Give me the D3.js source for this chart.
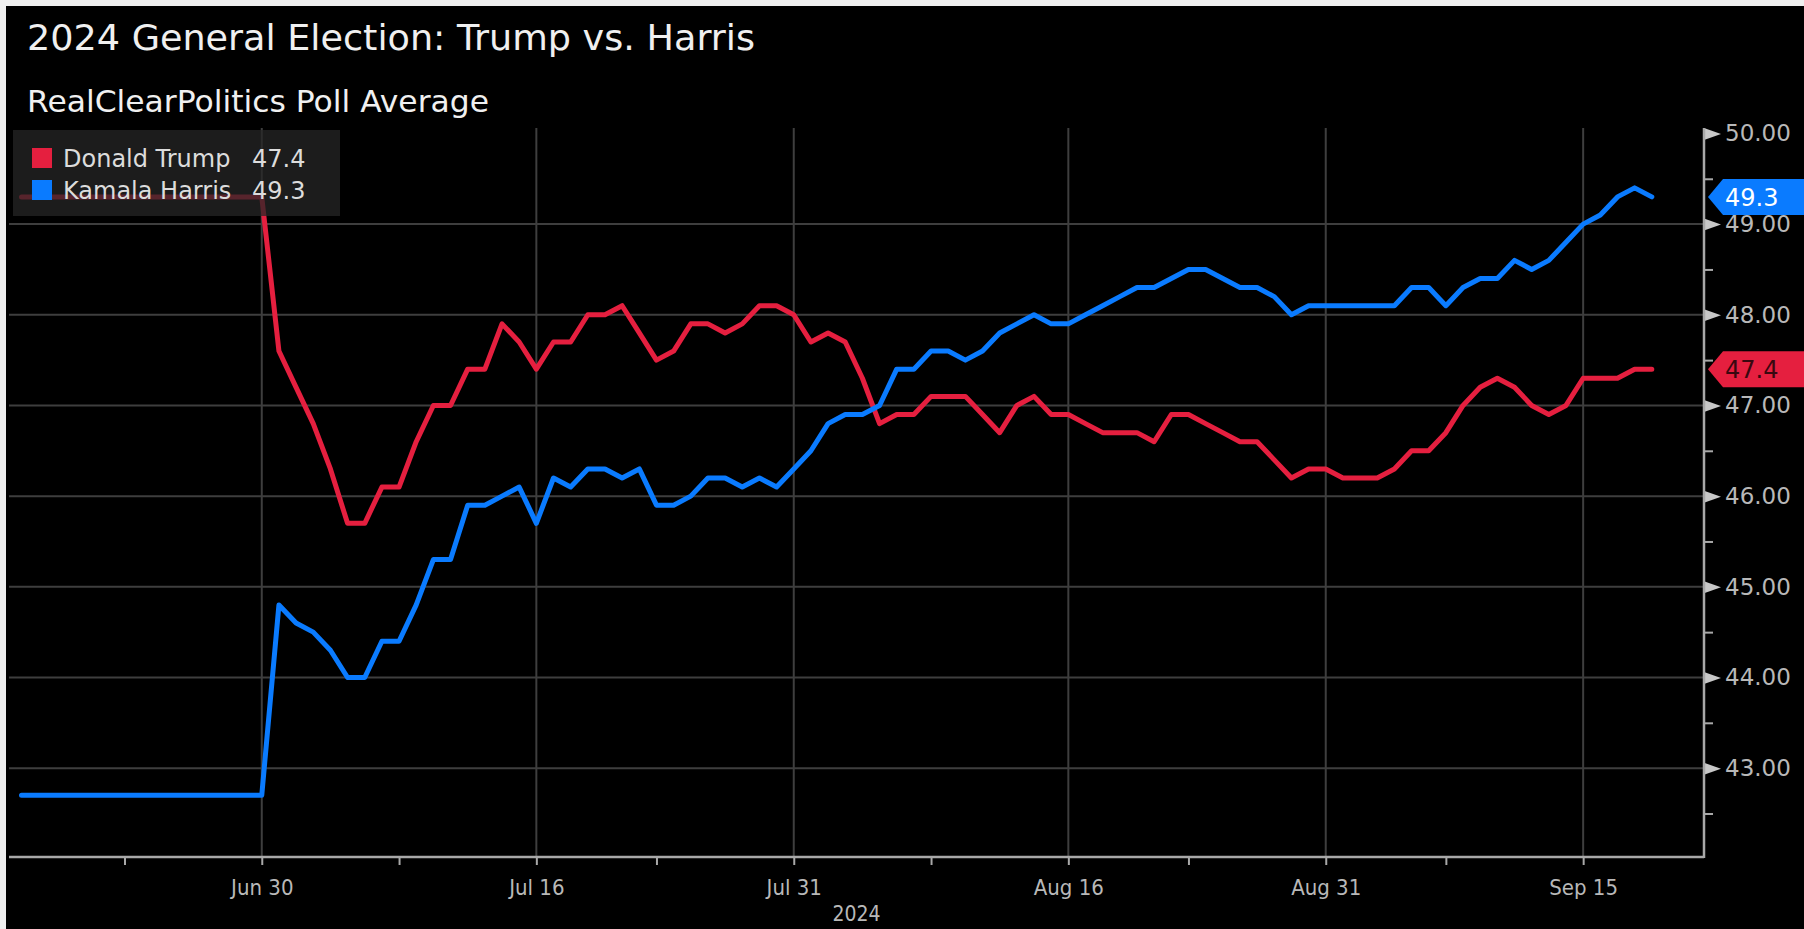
<!DOCTYPE html>
<html><head><meta charset="utf-8">
<script src="https://cdn.jsdelivr.net/npm/d3@7"></script>
<style>html,body{margin:0;padding:0;background:#efefef;overflow:hidden}</style>
</head><body><svg id="c" width="1804" height="929"></svg>
<script>
// ---------------- data ----------------
const chartTitle = "2024 General Election: Trump vs. Harris";
const chartSubtitle = "RealClearPolitics Poll Average";
const seriesNames = ["Donald Trump", "Kamala Harris"];
const firstDay = "2024-06-16"; // one value per day from here
const trumpValues = [
  49.3,49.3,49.3,49.3,49.3,49.3,49.3,49.3,49.3,49.3,49.3,49.3,49.3,49.3,
  49.3,47.6,47.2,46.8,46.3,45.7,45.7,46.1,46.1,46.6,47.0,47.0,47.4,47.4,47.9,47.7,
  47.4,47.7,47.7,48.0,48.0,48.1,47.8,47.5,47.6,47.9,47.9,47.8,47.9,48.1,48.1,
  48.0,47.7,47.8,47.7,47.3,46.8,46.9,46.9,47.1,47.1,47.1,46.9,46.7,47.0,47.1,46.9,
  46.9,46.8,46.7,46.7,46.7,46.6,46.9,46.9,46.8,46.7,46.6,46.6,46.4,46.2,46.3,
  46.3,46.2,46.2,46.2,46.3,46.5,46.5,46.7,47.0,47.2,47.3,47.2,47.0,46.9,47.0,
  47.3,47.3,47.3,47.4,47.4
];
const harrisValues = [
  42.7,42.7,42.7,42.7,42.7,42.7,42.7,42.7,42.7,42.7,42.7,42.7,42.7,42.7,
  42.7,44.8,44.6,44.5,44.3,44.0,44.0,44.4,44.4,44.8,45.3,45.3,45.9,45.9,46.0,46.1,
  45.7,46.2,46.1,46.3,46.3,46.2,46.3,45.9,45.9,46.0,46.2,46.2,46.1,46.2,46.1,
  46.3,46.5,46.8,46.9,46.9,47.0,47.4,47.4,47.6,47.6,47.5,47.6,47.8,47.9,48.0,47.9,
  47.9,48.0,48.1,48.2,48.3,48.3,48.4,48.5,48.5,48.4,48.3,48.3,48.2,48.0,48.1,
  48.1,48.1,48.1,48.1,48.1,48.3,48.3,48.1,48.3,48.4,48.4,48.6,48.5,48.6,48.8,
  49.0,49.1,49.3,49.4,49.3
];
const yTickValues = [43, 44, 45, 46, 47, 48, 49, 50];
const yGridValues = [43, 44, 45, 46, 47, 48, 49];
const yMinorValues = [42.5, 43.5, 44.5, 45.5, 46.5, 47.5, 48.5, 49.5];
const xTickDates = ["2024-06-30", "2024-07-16", "2024-07-31", "2024-08-16", "2024-08-31", "2024-09-15"];
const xMinorDates = ["2024-06-22", "2024-07-08", "2024-07-23", "2024-08-08", "2024-08-23", "2024-09-07"];
const yearLabel = "2024";
const colors = ["#e51f3f", "#0a7bff"];

// ---------------- setup ----------------
const W = 1804, H = 929;
const parse = d3.timeParse("%Y-%m-%d");
const start = parse(firstDay);
const dates = trumpValues.map((_, i) => d3.timeDay.offset(start, i));
const series = [
  { name: seriesNames[0], values: trumpValues, color: colors[0], textColor: "#3a0810" },
  { name: seriesNames[1], values: harrisValues, color: colors[1], textColor: "#ffffff" }
];

const plot = { left: 9, right: 1704, top: 128, bottom: 857 };
const x = d3.scaleTime()
  .domain([new Date(2024, 5, 15, 6, 30), new Date(2024, 8, 22, 1, 0)])
  .range([plot.left, plot.right]);
const y = d3.scaleLinear().domain([42.02, 50.06]).range([plot.bottom, plot.top]);

const svg = d3.select("#c");
svg.append("rect").attr("width", W).attr("height", H).attr("fill", "#efefef");
svg.append("rect").attr("x", 6).attr("y", 6).attr("width", W - 6).attr("height", H - 6).attr("fill", "#000");

const FONT = "'DejaVu Sans', Verdana, sans-serif";
const FONT_C = "'DejaVu Sans Condensed', 'DejaVu Sans', sans-serif";

// title
svg.append("text").attr("x", 27).attr("y", 50)
  .attr("font-family", FONT).attr("font-size", 36).attr("fill", "#f0f0f0")
  .attr("textLength", 728).attr("lengthAdjust", "spacingAndGlyphs")
  .text(chartTitle);
svg.append("text").attr("x", 27).attr("y", 112)
  .attr("font-family", FONT).attr("font-size", 30).attr("fill", "#f0f0f0")
  .attr("textLength", 462).attr("lengthAdjust", "spacingAndGlyphs")
  .text(chartSubtitle);

// grid
const grid = svg.append("g");
grid.selectAll(".hg").data(yGridValues).join("line")
  .attr("x1", plot.left).attr("x2", plot.right)
  .attr("y1", d => y(d)).attr("y2", d => y(d))
  .attr("stroke", "#3e3e3e").attr("stroke-width", 2);
grid.selectAll(".vg").data(xTickDates.map(parse)).join("line")
  .attr("x1", d => x(d)).attr("x2", d => x(d))
  .attr("y1", plot.top).attr("y2", plot.bottom)
  .attr("stroke", "#3e3e3e").attr("stroke-width", 2);

// x axis
const xAxisG = svg.append("g").attr("transform", `translate(0,${plot.bottom})`);
xAxisG.call(d3.axisBottom(x).tickValues(xTickDates.map(parse)).tickSize(8).tickPadding(14)
  .tickFormat(d3.timeFormat("%b %-d")));
const xMinorG = svg.append("g").attr("transform", `translate(0,${plot.bottom})`);
xMinorG.call(d3.axisBottom(x).tickValues(xMinorDates.map(parse)).tickSize(8).tickFormat(""));
[xAxisG, xMinorG].forEach(g => {
  g.select(".domain").remove();
  g.selectAll("line").attr("stroke", "#a8a8a8").attr("stroke-width", 2);
});
xAxisG.selectAll("text").attr("font-family", FONT_C).attr("font-size", 22).attr("fill", "#b8b8b8");
svg.append("line").attr("x1", plot.left).attr("x2", plot.right)
  .attr("y1", plot.bottom).attr("y2", plot.bottom).attr("stroke", "#a8a8a8").attr("stroke-width", 2.5);
svg.append("text").attr("x", (plot.left + plot.right) / 2).attr("y", 921)
  .attr("text-anchor", "middle").attr("font-family", FONT_C).attr("font-size", 21)
  .attr("fill", "#b8b8b8").text(yearLabel);

// y axis (right)
const yAxisG = svg.append("g").attr("transform", `translate(${plot.right},0)`);
yAxisG.call(d3.axisRight(y).tickValues(yTickValues).tickSize(0).tickPadding(21)
  .tickFormat(d3.format(".2f")));
yAxisG.select(".domain").remove();
yAxisG.selectAll(".tick text").attr("font-family", FONT).attr("font-size", 23).attr("fill", "#b8b8b8");
yAxisG.selectAll(".tick").append("path").attr("d", "M0,-6L17,0L0,6Z").attr("fill", "#c8c8c8");
const yMinorG = svg.append("g").attr("transform", `translate(${plot.right},0)`);
yMinorG.call(d3.axisRight(y).tickValues(yMinorValues).tickSize(9).tickFormat(""));
yMinorG.select(".domain").remove();
yMinorG.selectAll("line").attr("stroke", "#a8a8a8").attr("stroke-width", 2);
svg.append("line").attr("x1", plot.right).attr("x2", plot.right)
  .attr("y1", plot.top).attr("y2", plot.bottom + 1).attr("stroke", "#a8a8a8").attr("stroke-width", 2.5);

// lines
const line = d3.line().x((d, i) => x(dates[i])).y(d => y(d));
svg.append("g").selectAll("path").data(series).join("path")
  .attr("d", s => line(s.values))
  .attr("fill", "none").attr("stroke", s => s.color).attr("stroke-width", 5)
  .attr("stroke-linejoin", "round").attr("stroke-linecap", "round");

// legend
const lg = svg.append("g");
lg.append("rect").attr("x", 13).attr("y", 130).attr("width", 327).attr("height", 86)
  .attr("fill", "#262626").attr("opacity", 0.74);
series.forEach((s, i) => {
  const yy = 148 + i * 32;
  lg.append("rect").attr("x", 32).attr("y", yy).attr("width", 20).attr("height", 20).attr("fill", s.color);
  lg.append("text").attr("x", 63).attr("y", yy + 19).attr("font-family", FONT).attr("font-size", 24)
    .attr("fill", "#dcdcdc").text(s.name);
  lg.append("text").attr("x", 252).attr("y", yy + 19).attr("font-family", FONT).attr("font-size", 24)
    .attr("fill", "#dcdcdc").text(d3.format(".1f")(s.values[s.values.length - 1]));
});

// last-value tags
series.forEach(s => {
  const v = s.values[s.values.length - 1];
  const cy = y(v), h = 18, tip = plot.right + 4, body = plot.right + 19;
  svg.append("path")
    .attr("d", `M${tip},${cy}L${body},${cy - h}L${W},${cy - h}L${W},${cy + h}L${body},${cy + h}Z`)
    .attr("fill", s.color);
  svg.append("text").attr("x", body + 2).attr("y", cy).attr("dy", "0.36em")
    .attr("font-family", FONT).attr("font-size", 24).attr("fill", s.textColor)
    .text(d3.format(".1f")(v));
});
</script></body></html>
